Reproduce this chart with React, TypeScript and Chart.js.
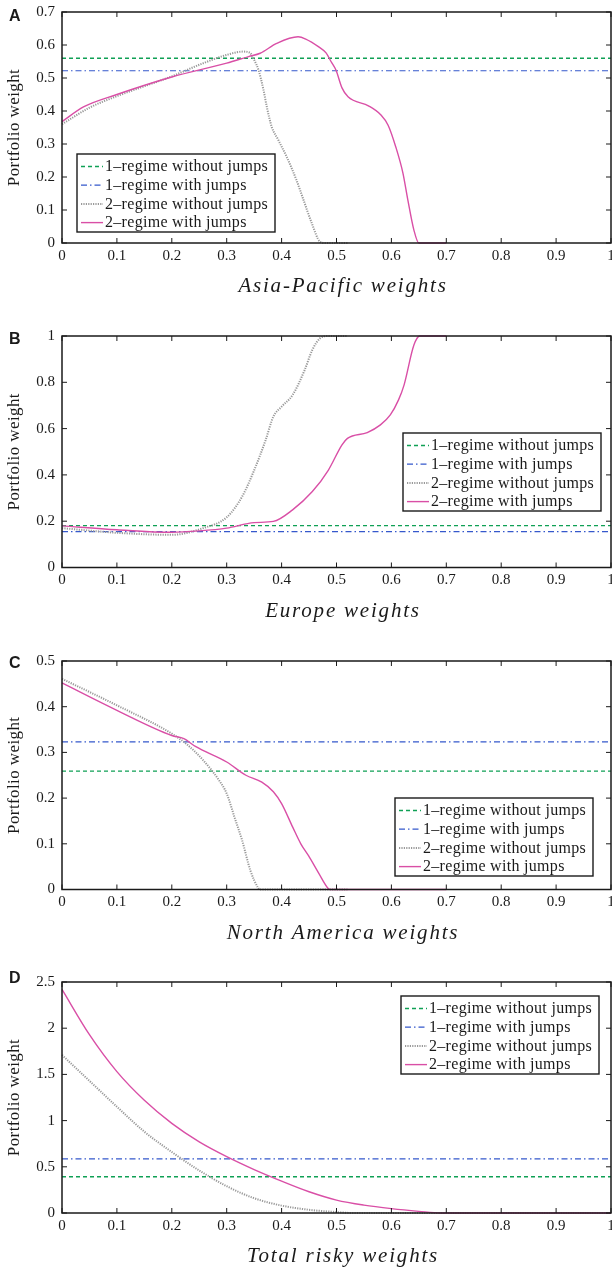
import React, { useEffect, useRef } from "react";
import { Chart, registerables } from "chart.js";

Chart.register(...registerables);

const SERIF = '"Liberation Serif", "Times New Roman", serif';
const SANS = '"Liberation Sans", Arial, sans-serif';

// ---------- tick labels ----------
const xTickLabels = ["0", "0.1", "0.2", "0.3", "0.4", "0.5", "0.6", "0.7", "0.8", "0.9", "1"];
const yTickLabelsA = ["0", "0.1", "0.2", "0.3", "0.4", "0.5", "0.6", "0.7"];
const yTickLabelsB = ["0", "0.2", "0.4", "0.6", "0.8", "1"];
const yTickLabelsC = ["0", "0.1", "0.2", "0.3", "0.4", "0.5"];
const yTickLabelsD = ["0", "0.5", "1", "1.5", "2", "2.5"];

const seriesNames = [
  "1\u2013regime without jumps",
  "1\u2013regime with jumps",
  "2\u2013regime without jumps",
  "2\u2013regime with jumps",
];

// ---------- Panel A : Asia-Pacific ----------
const aOneNoJump = 0.56;
const aOneJump = 0.522;
const aTwoNoJumpX = [0, 0.05, 0.1, 0.15, 0.2, 0.25, 0.3, 0.33, 0.342, 0.35, 0.358, 0.367, 0.373, 0.382, 0.394, 0.409, 0.427, 0.44, 0.455, 0.47, 0.48, 0.52];
const aTwoNoJumpY = [0.36, 0.41, 0.445, 0.475, 0.505, 0.54, 0.57, 0.58, 0.577, 0.555, 0.524, 0.464, 0.413, 0.352, 0.312, 0.262, 0.191, 0.13, 0.06, 0.004, 0, 0];
const aTwoJumpX = [0, 0.04, 0.1, 0.2, 0.3, 0.34, 0.361, 0.391, 0.43, 0.444, 0.467, 0.481, 0.49, 0.499, 0.51, 0.521, 0.559, 0.581, 0.594, 0.608, 0.621, 0.63, 0.641, 0.65, 0.7];
const aTwoJumpY = [0.368, 0.413, 0.45, 0.503, 0.545, 0.565, 0.575, 0.605, 0.625, 0.618, 0.595, 0.576, 0.55, 0.524, 0.47, 0.443, 0.415, 0.388, 0.357, 0.291, 0.212, 0.13, 0.039, 0, 0];

// ---------- Panel B : Europe ----------
const bOneNoJump = 0.181;
const bOneJump = 0.155;
const bTwoNoJumpX = [0, 0.1, 0.2, 0.257, 0.3, 0.328, 0.35, 0.371, 0.385, 0.4, 0.42, 0.442, 0.456, 0.47, 0.485, 0.52];
const bTwoNoJumpY = [0.17, 0.15, 0.141, 0.17, 0.217, 0.306, 0.42, 0.551, 0.652, 0.695, 0.745, 0.853, 0.94, 0.99, 1, 1];
const bTwoJumpX = [0, 0.1, 0.2, 0.25, 0.3, 0.35, 0.385, 0.42, 0.456, 0.485, 0.51, 0.52, 0.556, 0.58, 0.598, 0.613, 0.623, 0.641, 0.652, 0.7];
const bTwoJumpY = [0.18, 0.163, 0.152, 0.158, 0.17, 0.194, 0.199, 0.249, 0.328, 0.42, 0.53, 0.558, 0.583, 0.616, 0.659, 0.724, 0.788, 0.961, 1, 1];

// ---------- Panel C : North America ----------
const cOneNoJump = 0.259;
const cOneJump = 0.323;
const cTwoNoJumpX = [0, 0.1, 0.2, 0.229, 0.257, 0.286, 0.3, 0.314, 0.328, 0.343, 0.357, 0.36, 0.52];
const cTwoNoJumpY = [0.461, 0.403, 0.341, 0.316, 0.283, 0.239, 0.21, 0.159, 0.108, 0.042, 0.004, 0, 0];
const cTwoJumpX = [0, 0.1, 0.2, 0.222, 0.243, 0.3, 0.335, 0.364, 0.385, 0.4, 0.42, 0.435, 0.449, 0.467, 0.485, 0.488, 0.7];
const cTwoJumpY = [0.452, 0.392, 0.337, 0.33, 0.313, 0.279, 0.25, 0.235, 0.214, 0.188, 0.137, 0.1, 0.074, 0.037, 0.002, 0, 0];

// ---------- Panel D : Total risky ----------
const dOneNoJump = 0.392;
const dOneJump = 0.586;
const dTwoNoJumpX = [0, 0.05, 0.1, 0.15, 0.2, 0.25, 0.3, 0.35, 0.4, 0.45, 0.5, 0.53, 1];
const dTwoNoJumpY = [1.71, 1.43, 1.15, 0.88, 0.66, 0.46, 0.29, 0.16, 0.08, 0.035, 0.01, 0, 0];
const dTwoJumpX = [0, 0.05, 0.1, 0.15, 0.2, 0.25, 0.3, 0.35, 0.4, 0.45, 0.5, 0.55, 0.6, 0.65, 0.69, 1];
const dTwoJumpY = [2.42, 1.93, 1.53, 1.22, 0.97, 0.77, 0.61, 0.47, 0.345, 0.23, 0.14, 0.085, 0.047, 0.018, 0, 0];

// ---------- styles ----------
const GREEN = "#0fa055";
const BLUE = "#3558cc";
const GRAY = "#999999";
const PINK = "#d94fa6";

type PanelCfg = {
  letter: string;
  title: string;
  top: number;
  height: number;
  plotH: number;
  letterY: number;
  yMax: number;
  yStep: number;
  yLabels: string[];
  one: number;
  oneJ: number;
  grayX: number[];
  grayY: number[];
  pinkX: number[];
  pinkY: number[];
  legendX: number;
  legendY: number;
};

const panels: PanelCfg[] = [
  { letter: "A", title: "Asia-Pacific weights", top: 0, height: 324, plotH: 231, letterY: 21, yMax: 0.7, yStep: 0.1, yLabels: yTickLabelsA, one: aOneNoJump, oneJ: aOneJump, grayX: aTwoNoJumpX, grayY: aTwoNoJumpY, pinkX: aTwoJumpX, pinkY: aTwoJumpY, legendX: 77, legendY: 154 },
  { letter: "B", title: "Europe weights", top: 324, height: 325, plotH: 231.5, letterY: 19.5, yMax: 1, yStep: 0.2, yLabels: yTickLabelsB, one: bOneNoJump, oneJ: bOneJump, grayX: bTwoNoJumpX, grayY: bTwoNoJumpY, pinkX: bTwoJumpX, pinkY: bTwoJumpY, legendX: 403, legendY: 109 },
  { letter: "C", title: "North America weights", top: 649, height: 321, plotH: 228.5, letterY: 18.5, yMax: 0.5, yStep: 0.1, yLabels: yTickLabelsC, one: cOneNoJump, oneJ: cOneJump, grayX: cTwoNoJumpX, grayY: cTwoNoJumpY, pinkX: cTwoJumpX, pinkY: cTwoJumpY, legendX: 395, legendY: 149 },
  { letter: "D", title: "Total risky weights", top: 970, height: 299, plotH: 231, letterY: 12.5, yMax: 2.5, yStep: 0.5, yLabels: yTickLabelsD, one: dOneNoJump, oneJ: dOneJump, grayX: dTwoNoJumpX, grayY: dTwoNoJumpY, pinkX: dTwoJumpX, pinkY: dTwoJumpY, legendX: 401, legendY: 26 },
];

const pts = (xs: number[], ys: number[]) => xs.map((x, i) => ({ x, y: ys[i] }));

const decorPlugin = {
  id: "decor",
  afterDraw(chart: any, _args: any, opts: any) {
    const { ctx, chartArea: a, scales } = chart;
    ctx.save();
    const seg = (x1: number, y1: number, x2: number, y2: number) => {
      ctx.beginPath();
      ctx.moveTo(x1, y1);
      ctx.lineTo(x2, y2);
      ctx.stroke();
    };
    // inward ticks
    ctx.strokeStyle = "#1a1a1a";
    ctx.lineWidth = 1;
    ctx.setLineDash([]);
    const tl = 5;
    scales.x.ticks.forEach((t: any) => {
      const px = scales.x.getPixelForValue(t.value);
      seg(px, a.bottom, px, a.bottom - tl);
      seg(px, a.top, px, a.top + tl);
    });
    scales.y.ticks.forEach((t: any) => {
      const py = scales.y.getPixelForValue(t.value);
      seg(a.left, py, a.left + tl, py);
      seg(a.right, py, a.right - tl, py);
    });
    // frame
    ctx.lineWidth = 1.5;
    ctx.strokeRect(a.left, a.top, a.right - a.left, a.bottom - a.top);

    // legend
    const lx = opts.legendX, ly = opts.legendY, lw = 198, lh = 78;
    ctx.fillStyle = "#ffffff";
    ctx.fillRect(lx, ly, lw, lh);
    ctx.lineWidth = 1.4;
    ctx.strokeStyle = "#1a1a1a";
    ctx.strokeRect(lx, ly, lw, lh);
    [0, 1, 2, 3].forEach((i) => {
      const ds = chart.data.datasets[i];
      const ry = ly + 12.5 + i * 18.7;
      ctx.save();
      ctx.strokeStyle = ds.borderColor;
      ctx.lineWidth = ds.borderWidth;
      ctx.setLineDash(ds.borderDash || []);
      seg(lx + 4, ry, lx + 26, ry);
      ctx.restore();
      ctx.fillStyle = "#1a1a1a";
      ctx.font = `16px ${SERIF}`;
      (ctx as any).letterSpacing = "0.3px";
      ctx.textAlign = "left";
      ctx.textBaseline = "middle";
      ctx.fillText(seriesNames[i], lx + 28, ry + 0.5);
      (ctx as any).letterSpacing = "0px";
    });

    // x axis title
    ctx.fillStyle = "#1a1a1a";
    ctx.font = `italic 21px ${SERIF}`;
    (ctx as any).letterSpacing = "1.8px";
    ctx.textAlign = "center";
    ctx.textBaseline = "alphabetic";
    ctx.fillText(opts.title, 343, a.bottom + 49);

    // y axis title
    ctx.save();
    ctx.font = `17px ${SERIF}`;
    (ctx as any).letterSpacing = "0.4px";
    ctx.translate(15, (a.top + a.bottom) / 2);
    ctx.rotate(-Math.PI / 2);
    ctx.textAlign = "center";
    ctx.textBaseline = "middle";
    ctx.fillText("Portfolio weight", 0, 0);
    ctx.restore();
    (ctx as any).letterSpacing = "0px";

    // panel letter
    ctx.fillStyle = "#1a1a1a";
    ctx.font = `bold 16px ${SANS}`;
    ctx.textAlign = "left";
    ctx.textBaseline = "alphabetic";
    ctx.fillText(opts.letter, 9, opts.letterY);
    ctx.restore();
  },
};

function Panel({ cfg }: { cfg: PanelCfg }) {
  const ref = useRef<HTMLCanvasElement | null>(null);
  useEffect(() => {
    if (!ref.current) return;
    const xAxisH = cfg.height - 12 - cfg.plotH;
    const lineBase = { pointRadius: 0, pointHoverRadius: 0, fill: false, clip: 4 };
    const chart = new Chart(ref.current, {
      type: "line",
      data: {
        datasets: [
          { ...lineBase, label: seriesNames[0], data: pts([0, 1], [cfg.one, cfg.one]), borderColor: GREEN, borderWidth: 1.4, borderDash: [4, 3], order: 3 },
          { ...lineBase, label: seriesNames[1], data: pts([0, 1], [cfg.oneJ, cfg.oneJ]), borderColor: BLUE, borderWidth: 1.2, borderDash: [6, 3, 1.5, 3], order: 2 },
          { ...lineBase, label: seriesNames[2], data: pts(cfg.grayX, cfg.grayY), borderColor: GRAY, borderWidth: 2, borderDash: [1.2, 1.2], cubicInterpolationMode: "monotone", order: 1 },
          { ...lineBase, label: seriesNames[3], data: pts(cfg.pinkX, cfg.pinkY), borderColor: PINK, borderWidth: 1.4, cubicInterpolationMode: "monotone", order: 0 },
        ] as any,
      },
      options: {
        animation: false,
        responsive: false,
        maintainAspectRatio: false,
        devicePixelRatio: 1,
        events: [],
        layout: { padding: { top: 12, right: 1, left: 0, bottom: 0 } },
        plugins: {
          legend: { display: false },
          tooltip: { enabled: false },
          decor: { legendX: cfg.legendX, legendY: cfg.legendY, title: cfg.title, letter: cfg.letter, letterY: cfg.letterY },
        } as any,
        scales: {
          x: {
            type: "linear",
            min: 0,
            max: 1,
            grid: { display: false, drawTicks: false },
            border: { display: false },
            ticks: {
              stepSize: 0.1,
              autoSkip: false,
              maxRotation: 0,
              padding: 4,
              color: "#1a1a1a",
              font: { family: SERIF, size: 15 },
              callback: (_v: any, i: number) => xTickLabels[i],
            },
            afterFit: (s: any) => {
              s.height = xAxisH;
              s.paddingLeft = 0;
              s.paddingRight = 0;
            },
          },
          y: {
            type: "linear",
            min: 0,
            max: cfg.yMax,
            grid: { display: false, drawTicks: false },
            border: { display: false },
            ticks: {
              stepSize: cfg.yStep,
              autoSkip: false,
              padding: 7,
              color: "#1a1a1a",
              font: { family: SERIF, size: 15 },
              callback: (_v: any, i: number) => cfg.yLabels[i],
            },
            afterFit: (s: any) => {
              s.width = 62;
              s.paddingTop = 0;
              s.paddingBottom = 0;
            },
          },
        },
      },
      plugins: [decorPlugin as any],
    });
    return () => chart.destroy();
  }, [cfg]);
  return (
    <canvas
      ref={ref}
      width={612}
      height={cfg.height}
      style={{ position: "absolute", left: 0, top: cfg.top, width: 612, height: cfg.height, display: "block" }}
    />
  );
}

export default function App() {
  return (
    <div style={{ position: "absolute", left: 0, top: 0, width: 612, height: 1269, overflow: "hidden", background: "#fff" }}>
      {panels.map((p) => (
        <Panel key={p.letter} cfg={p} />
      ))}
    </div>
  );
}
